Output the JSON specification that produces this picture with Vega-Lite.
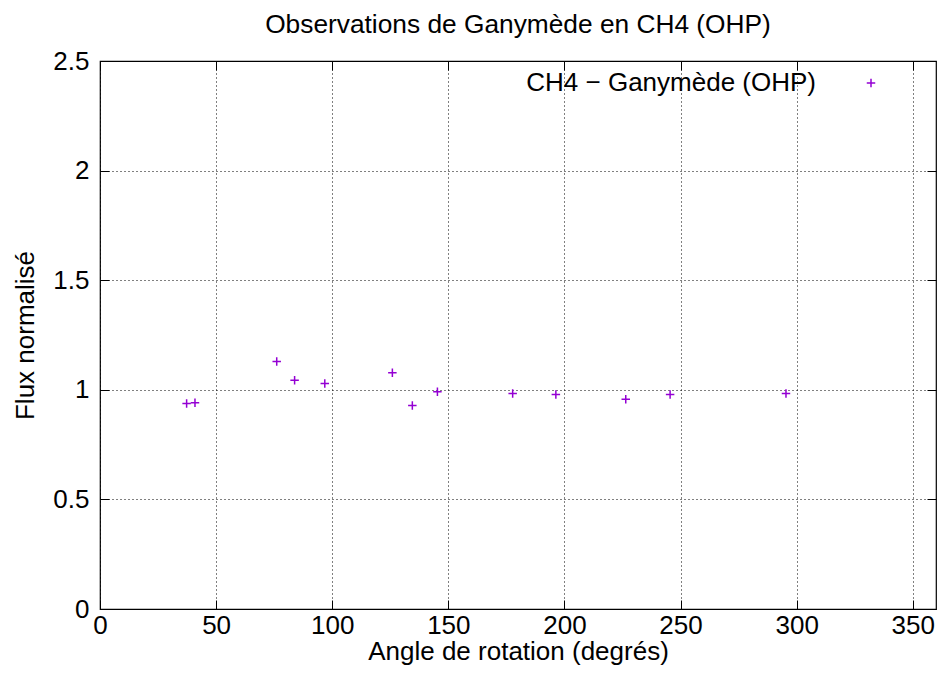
{
  "$schema": "https://vega.github.io/schema/vega-lite/v6.json",
  "width": 836,
  "height": 548,
  "autosize": {"type": "none"},
  "padding": {"left": 100, "top": 61, "right": 5, "bottom": 64},
  "background": "white",
  "title": {
    "text": "Observations de Ganymède en CH4 (OHP)",
    "font": "Liberation Sans",
    "fontSize": 26.3,
    "fontWeight": "normal",
    "color": "black",
    "anchor": "middle",
    "baseline": "bottom",
    "offset": -17
  },
  "config": {
    "view": {"stroke": "black", "strokeWidth": 1.2},
    "font": "Liberation Sans"
  },
  "data": {
    "values": [
      {"angle": 37.3, "flux": 0.937, "series": "CH4 − Ganymède (OHP)"},
      {"angle": 40.9, "flux": 0.941, "series": "CH4 − Ganymède (OHP)"},
      {"angle": 76.1, "flux": 1.129, "series": "CH4 − Ganymède (OHP)"},
      {"angle": 83.8, "flux": 1.044, "series": "CH4 − Ganymède (OHP)"},
      {"angle": 96.8, "flux": 1.029, "series": "CH4 − Ganymède (OHP)"},
      {"angle": 125.9, "flux": 1.078, "series": "CH4 − Ganymède (OHP)"},
      {"angle": 134.5, "flux": 0.928, "series": "CH4 − Ganymède (OHP)"},
      {"angle": 145.3, "flux": 0.991, "series": "CH4 − Ganymède (OHP)"},
      {"angle": 177.7, "flux": 0.983, "series": "CH4 − Ganymède (OHP)"},
      {"angle": 196.3, "flux": 0.979, "series": "CH4 − Ganymède (OHP)"},
      {"angle": 226.4, "flux": 0.957, "series": "CH4 − Ganymède (OHP)"},
      {"angle": 245.5, "flux": 0.979, "series": "CH4 − Ganymède (OHP)"},
      {"angle": 295.4, "flux": 0.983, "series": "CH4 − Ganymède (OHP)"}
    ]
  },
  "layer": [
    {
      "mark": {
        "type": "point",
        "shape": "M-1,0L1,0M0,-1L0,1",
        "filled": false,
        "strokeWidth": 1.5,
        "size": 72,
        "opacity": 1
      },
      "encoding": {
        "x": {
          "field": "angle",
          "type": "quantitative",
          "scale": {"domain": [0, 360], "nice": false, "zero": false},
          "axis": {
            "orient": "bottom",
            "values": [0, 50, 100, 150, 200, 250, 300, 350],
            "format": "d",
            "labelFont": "Liberation Sans",
            "labelFontSize": 26,
            "labelColor": "black",
            "labelPadding": 12,
            "labelFlush": false,
            "tickSize": -9,
            "tickColor": "black",
            "tickWidth": 1,
            "domain": false,
            "grid": true,
            "gridColor": "black",
            "gridDash": [1, 3],
            "gridWidth": 1,
            "gridOpacity": 1,
            "title": "Angle de rotation (degrés)",
            "titleFont": "Liberation Sans",
            "titleFontSize": 26,
            "titleFontWeight": "normal",
            "titleColor": "black",
            "titleBaseline": "alphabetic",
            "titleY": 50
          }
        },
        "y": {
          "field": "flux",
          "type": "quantitative",
          "scale": {"domain": [0, 2.5], "nice": false, "zero": false},
          "axis": {
            "orient": "left",
            "values": [0, 0.5, 1, 1.5, 2, 2.5],
            "format": "~g",
            "labelFont": "Liberation Sans",
            "labelFontSize": 26,
            "labelColor": "black",
            "labelPadding": 20,
            "labelFlush": false,
            "tickSize": -9,
            "tickColor": "black",
            "tickWidth": 1,
            "domain": false,
            "grid": true,
            "gridColor": "black",
            "gridDash": [1, 3],
            "gridWidth": 1,
            "gridOpacity": 1,
            "title": "Flux normalisé",
            "titleFont": "Liberation Sans",
            "titleFontSize": 26,
            "titleFontWeight": "normal",
            "titleColor": "black",
            "titleAngle": -90,
            "titleBaseline": "alphabetic",
            "titleX": -67
          }
        },
        "color": {
          "field": "series",
          "type": "nominal",
          "scale": {"range": ["#9400d3"]},
          "legend": {
            "orient": "none",
            "legendX": 758,
            "legendY": 9,
            "title": null,
            "padding": 0,
            "labelFont": "Liberation Sans",
            "labelFontSize": 26,
            "labelColor": "black",
            "labelAlign": "right",
            "labelOffset": -68,
            "labelLimit": 0,
            "symbolType": "M-1,0L1,0M0,-1L0,1",
            "symbolSize": 72,
            "symbolStrokeWidth": 1.5,
            "symbolStrokeColor": "#9400d3"
          }
        }
      }
    },
    {
      "mark": {"type": "point", "opacity": 0},
      "encoding": {
        "x": {
          "field": "angle",
          "type": "quantitative",
          "scale": {"domain": [0, 360], "nice": false, "zero": false},
          "axis": {
            "orient": "top",
            "values": [0, 50, 100, 150, 200, 250, 300, 350],
            "labels": false,
            "tickSize": -9,
            "tickColor": "black",
            "tickWidth": 1,
            "domain": false,
            "grid": false,
            "title": null
          }
        },
        "y": {
          "field": "flux",
          "type": "quantitative",
          "scale": {"domain": [0, 2.5], "nice": false, "zero": false},
          "axis": {
            "orient": "right",
            "values": [0, 0.5, 1, 1.5, 2, 2.5],
            "labels": false,
            "tickSize": -9,
            "tickColor": "black",
            "tickWidth": 1,
            "domain": false,
            "grid": false,
            "title": null
          }
        }
      }
    }
  ],
  "resolve": {"axis": {"x": "independent", "y": "independent"}}
}
